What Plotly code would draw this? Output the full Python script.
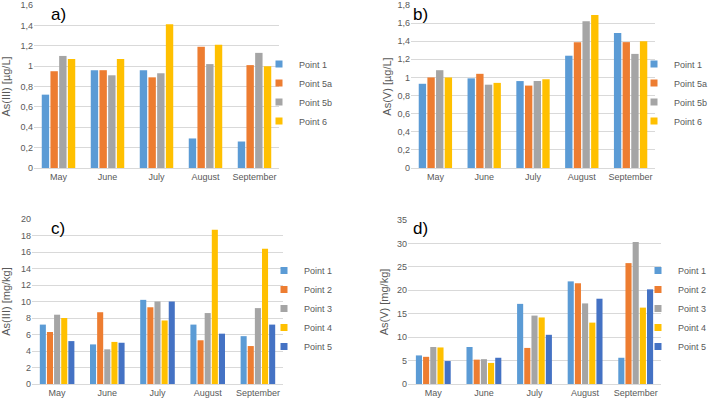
import plotly.graph_objects as go

months = ["May", "June", "July", "August", "September"]

a_names = ["Point 1", "Point 5a", "Point 5b", "Point 6"]
a_p1 = [0.72, 0.96, 0.96, 0.29, 0.26]
a_p5a = [0.95, 0.96, 0.89, 1.19, 1.01]
a_p5b = [1.10, 0.91, 0.93, 1.02, 1.13]
a_p6 = [1.07, 1.07, 1.41, 1.21, 1.00]

b_p1 = [0.93, 0.99, 0.96, 1.24, 1.49]
b_p5a = [1.00, 1.04, 0.91, 1.39, 1.39]
b_p5b = [1.08, 0.92, 0.96, 1.62, 1.26]
b_p6 = [1.00, 0.94, 0.98, 1.69, 1.40]

cd_names = ["Point 1", "Point 2", "Point 3", "Point 4", "Point 5"]
c_p1 = [7.2, 4.8, 10.2, 7.2, 5.8]
c_p2 = [6.3, 8.7, 9.3, 5.3, 4.6]
c_p3 = [8.4, 4.2, 10.0, 8.6, 9.2]
c_p4 = [8.0, 5.1, 7.7, 18.7, 16.4]
c_p5 = [5.2, 5.0, 10.0, 6.1, 7.2]

d_p1 = [6.1, 7.9, 17.1, 21.9, 5.6]
d_p2 = [5.8, 5.2, 7.7, 21.5, 25.8]
d_p3 = [7.9, 5.3, 14.6, 17.2, 30.3]
d_p4 = [7.8, 4.5, 14.2, 13.1, 16.3]
d_p5 = [4.9, 5.6, 10.5, 18.2, 20.2]

colors = ["#5B9BD5", "#ED7D31", "#A5A5A5", "#FFC000", "#4472C4"]

W, H = 708, 402
FONT = "Liberation Sans"
TICKC = "#595959"
GRID = "#D9D9D9"

fig = go.Figure()

panels = [
    ("x", "y", "legend", a_names, [a_p1, a_p5a, a_p5b, a_p6]),
    ("x2", "y2", "legend2", a_names, [b_p1, b_p5a, b_p5b, b_p6]),
    ("x3", "y3", "legend3", cd_names, [c_p1, c_p2, c_p3, c_p4, c_p5]),
    ("x4", "y4", "legend4", cd_names, [d_p1, d_p2, d_p3, d_p4, d_p5]),
]

for xa, ya, lg, names, series in panels:
    for i, (nm, vals) in enumerate(zip(names, series)):
        fig.add_trace(go.Bar(
            x=months, y=vals, name=nm, xaxis=xa, yaxis=ya, legend=lg,
            legendgroup=lg + nm, showlegend=False,
            marker=dict(color=colors[i], line=dict(width=0)),
        ))
        # legend key (small square like the reference)
        fig.add_trace(go.Scatter(
            x=[None], y=[None], mode="markers", name=nm, xaxis=xa, yaxis=ya,
            legend=lg, legendgroup=lg + nm, showlegend=True, hoverinfo="skip",
            marker=dict(symbol="square", size=7, color=colors[i]),
        ))

def px_x(v):
    return v / W

def px_y(v):
    return 1 - v / H

def xaxis(l, r, anchor):
    return dict(domain=[px_x(l), px_x(r)], anchor=anchor, showgrid=False,
                showline=True, linecolor=GRID, linewidth=1, ticks="",
                tickfont=dict(family=FONT, size=9, color=TICKC), fixedrange=True)

def yaxis(t, b, anchor, rng, dt, title, so):
    return dict(domain=[px_y(b), px_y(t)], anchor=anchor, range=rng, dtick=dt,
                showgrid=True, gridcolor=GRID, gridwidth=1, zeroline=False,
                showline=False, ticks="", fixedrange=True, ticklabeloverflow="allow",
                tickfont=dict(family=FONT, size=9, color=TICKC),
                title=dict(text=title, font=dict(family=FONT, size=11, color=TICKC), standoff=so))

def legend(x, ymid):
    return dict(x=px_x(x), y=px_y(ymid), xanchor="left", yanchor="middle",
                font=dict(family=FONT, size=9, color=TICKC), bgcolor="rgba(0,0,0,0)",
                itemwidth=30, tracegroupgap=0)

fig.update_layout(
    width=W, height=H, margin=dict(l=0, r=0, t=0, b=0, autoexpand=False),
    paper_bgcolor="white", plot_bgcolor="white",
    separators=", ",
    barmode="group", bargap=0.29, bargroupgap=0.15,
    xaxis=xaxis(34, 279, "y"),
    yaxis=yaxis(5, 168, "x", [0, 1.6], 0.2, "As(III) [µg/L]", 13),
    xaxis2=xaxis(411, 655, "y2"),
    yaxis2=yaxis(5, 168, "x2", [0, 1.8], 0.2, "As(V) [µg/L]", 3),
    xaxis3=xaxis(32, 283, "y3"),
    yaxis3=yaxis(219, 384, "x3", [0, 20], 2, "As(III) [mg/kg]", 17),
    xaxis4=xaxis(408, 661, "y4"),
    yaxis4=yaxis(220, 384, "x4", [0, 35], 5, "As(V) [mg/kg]", 6),
    legend=legend(259, 92.5),
    legend2=legend(634, 92.5),
    legend3=legend(264, 308.5),
    legend4=legend(638, 308.5),
    showlegend=True,
)

for txt, x, y in [("a)", 49, 15), ("b)", 411, 15), ("c)", 49, 228), ("d)", 411, 228)]:
    fig.add_annotation(text=txt, x=px_x(x), y=px_y(y), xref="paper", yref="paper",
                       xanchor="left", yanchor="middle", showarrow=False,
                       font=dict(family=FONT, size=17, color="black"))

fig.write_html("out.html", config={"displayModeBar": False},
               post_script="document.body.style.margin='0';")
